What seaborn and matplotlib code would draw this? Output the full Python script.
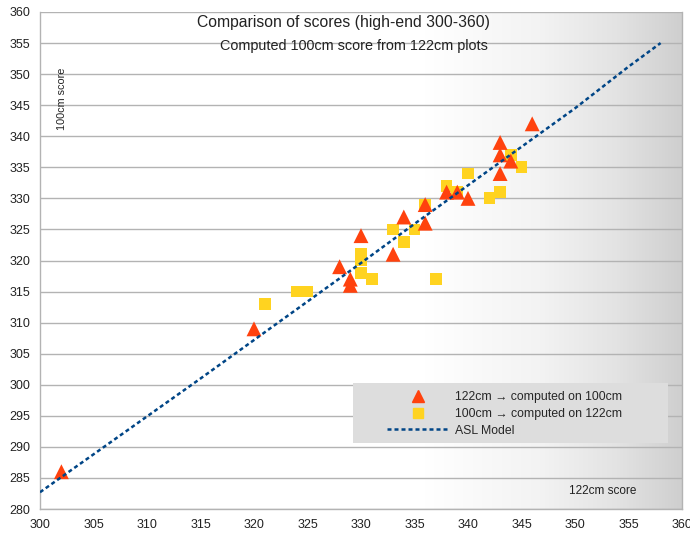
import numpy as np
import pandas as pd
import matplotlib
matplotlib.use("Agg")
import matplotlib.pyplot as plt
import seaborn as sns
from matplotlib.patches import Rectangle
from matplotlib.colors import LinearSegmentedColormap
from matplotlib.lines import Line2D

# Datos
tri_x = [302, 320, 328, 329, 329, 330, 333, 334, 336, 336, 338, 339, 340, 343, 343, 343, 344, 346]
tri_y = [286, 309, 319, 317, 316, 324, 321, 327, 329, 326, 331, 331, 330, 339, 337, 334, 336, 342]

sq_x = [321, 324, 325, 330, 330, 330, 331, 333, 334, 335, 336, 337, 338, 339, 340, 342, 343, 344, 345]
sq_y = [313, 315, 315, 321, 320, 318, 317, 325, 323, 325, 329, 317, 332, 331, 334, 330, 331, 337, 335]

asl_x = [300, 305, 310, 315, 320, 325, 330, 335, 340, 345, 350, 355, 358]
asl_y = [282.7, 288.8, 294.9, 301.0, 307.2, 313.4, 319.6, 325.9, 332.1, 338.3, 344.5, 351.2, 355.0]

x_ticks = list(range(300, 361, 5))
y_ticks = list(range(280, 361, 5))

tri = pd.DataFrame({"x": tri_x, "y": tri_y})
sq = pd.DataFrame({"x": sq_x, "y": sq_y})
asl = pd.DataFrame({"x": asl_x, "y": asl_y})

sns.set_style("white")
plt.rcParams["font.family"] = ["Liberation Sans", "DejaVu Sans"]

c_tri = "#ff420e"
c_sq = "#ffd320"
c_line = "#004586"
grid_c = "#b3b3b3"

fig = plt.figure(figsize=(6.9, 5.33), dpi=100)
ax = fig.add_axes([40 / 690, 1 - 509 / 533, 642 / 690, 497 / 533])

# Fondo con degradado hacia la derecha
cmap = LinearSegmentedColormap.from_list(
    "bg", [(0, "#ffffff"), (0.6, "#ffffff"), (0.78, "#f3f3f3"), (0.9, "#e3e3e3"), (1.0, "#cfcfcf")])
grad = np.linspace(0, 1, 256).reshape(1, -1)
ax.imshow(grad, extent=[300, 360, 280, 360], aspect="auto", cmap=cmap, zorder=0, origin="lower")

for yv in y_ticks:
    ax.axhline(yv, color=grid_c, lw=1, zorder=1)

sns.scatterplot(data=sq, x="x", y="y", ax=ax, marker="s", s=72, color=c_sq,
                edgecolor="none", zorder=3, legend=False)
sns.scatterplot(data=tri, x="x", y="y", ax=ax, marker="^", s=115, color=c_tri,
                edgecolor="none", zorder=4, legend=False)
sns.lineplot(data=asl, x="x", y="y", ax=ax, color=c_line, lw=1.8,
             linestyle=(0, (1.6, 1.2)), zorder=5, legend=False)

ax.set_xlim(300, 360)
ax.set_ylim(280, 360)
ax.set_xticks(x_ticks)
ax.set_yticks(y_ticks)
ax.tick_params(axis="both", labelsize=9, colors="#222222", length=4, width=1,
               direction="out", color=grid_c, pad=3)
ax.set_xlabel("")
ax.set_ylabel("")
for side in ["left", "bottom", "right"]:
    ax.spines[side].set_color(grid_c)
    ax.spines[side].set_linewidth(1)
ax.spines["top"].set_visible(False)

# Etiquetas de ejes dentro del area
ax.text(62 / 690, 1 - 99 / 533, "100cm score", transform=fig.transFigure, rotation=90,
        ha="center", va="center", fontsize=7.8, color="#222222")
ax.text(603 / 690, 1 - 491 / 533, "122cm score", transform=fig.transFigure,
        ha="center", va="center", fontsize=8.5, color="#222222")

# Titulos
fig.text(343 / 690, 1 - 22 / 533, "Comparison of scores (high-end 300-360)",
         ha="center", va="center", fontsize=11.3, color="#222222")
fig.text(354 / 690, 1 - 46 / 533, "Computed 100cm score from 122cm plots",
         ha="center", va="center", fontsize=10.4, color="#222222")

# Leyenda
ax.add_patch(Rectangle((313 / 642, 66 / 497), 315 / 642, 60 / 497, transform=ax.transAxes,
                       facecolor="#dddddd", edgecolor="none", zorder=6))
handles = [
    Line2D([], [], marker="^", color=c_tri, ls="none", markersize=8),
    Line2D([], [], marker="s", color=c_sq, ls="none", markersize=7),
    Line2D([], [], color=c_line, lw=1.8, linestyle=(0, (1.6, 1.2))),
]
labels = ["122cm \u2192 computed on 100cm", "100cm \u2192 computed on 122cm", "ASL Model"]
leg = ax.legend(handles, labels, loc="center left", bbox_to_anchor=(341 / 642, 95 / 497),
                frameon=False, fontsize=8.8, handlelength=5.1, handletextpad=0.45,
                borderpad=0, labelspacing=0.38)
leg.set_zorder(7)

plt.savefig("out.png", dpi=100)
